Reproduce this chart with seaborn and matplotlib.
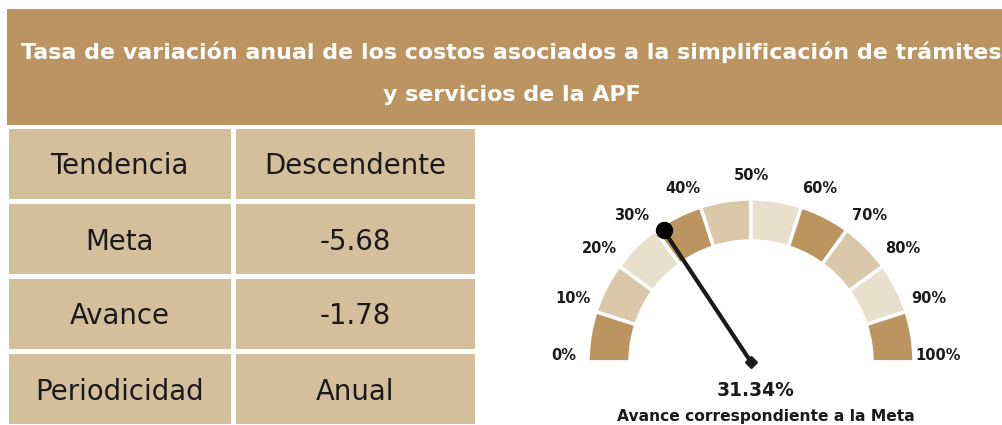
import numpy as np
import matplotlib
matplotlib.use("Agg")
import matplotlib.pyplot as plt
import seaborn as sns

# data
title_lines = ["Tasa de variación anual de los costos asociados a la simplificación de trámites",
               "y servicios de la APF"]
row_names = ["Tendencia", "Meta", "Avance", "Periodicidad"]
row_values = ["Descendente", "-5.68", "-1.78", "Anual"]
gauge_ticks = [0, 10, 20, 30, 40, 50, 60, 70, 80, 90, 100]
segment_size = [10] * 10
segment_colors = ["#BC945F", "#D9C8A9", "#E9DFCD", "#BC945F", "#D9C8A9",
                  "#E9DFCD", "#BC945F", "#D9C8A9", "#E9DFCD", "#BC945F"]
avance_pct = 31.34
gauge_caption = "Avance correspondiente a la Meta"

W, H = 1002, 425
sns.set_theme(style="white")
plt.rcParams['font.family'] = ['DejaVu Sans']

fig = plt.figure(figsize=(W / 100, H / 100), dpi=100)
fig.patch.set_facecolor("white")


def px_box(x0, y0, x1, y1):
    # pixel box (top-left origin) -> figure fraction rect
    return [x0 / W, 1 - y1 / H, (x1 - x0) / W, (y1 - y0) / H]


# title banner
ax_t = fig.add_axes(px_box(7, 9, 1002, 125))
ax_t.set_facecolor("#BB9461")
ax_t.set_xticks([])
ax_t.set_yticks([])
for s in ax_t.spines.values():
    s.set_visible(False)
ax_t.text(0.507, 0.625, title_lines[0], ha="center", va="center", color="white",
          fontsize=15.9, fontweight="bold", transform=ax_t.transAxes)
ax_t.text(0.507, 0.255, title_lines[1], ha="center", va="center", color="white",
          fontsize=15.9, fontweight="bold", transform=ax_t.transAxes)

# table as two single-column heatmaps (columns have different widths)
cell_cmap = matplotlib.colors.ListedColormap(["#D4BF9C"])
col_edges = [6, 233, 477]
for i, col in enumerate([row_names, row_values]):
    ax_c = fig.add_axes(px_box(col_edges[i], 126, col_edges[i + 1], 426))
    labels = np.array(col).reshape(-1, 1)
    sns.heatmap(np.zeros(labels.shape), ax=ax_c, cmap=cell_cmap,
                cbar=False, annot=labels, fmt="", linewidths=2.5, linecolor="white",
                xticklabels=False, yticklabels=False,
                annot_kws={"fontsize": 19.8, "color": "#1A1A1A"})
    for txt in ax_c.texts:
        x, y = txt.get_position()
        txt.set_position((x, y + 0.04))

# gauge, in pixel units centred on the hub
cx, cy = 751, 362
R, ring = 163, 42
gx0, gy0, gx1, gy1 = 480, 135, 1002, 425
ax_g = fig.add_axes(px_box(gx0, gy0, gx1, gy1))
ax_g.pie(segment_size + [sum(segment_size)], colors=segment_colors + ["none"],
         startangle=180, counterclock=False, radius=R,
         wedgeprops=dict(width=ring, edgecolor="white", linewidth=2.5))
ax_g.set_xlim(gx0 - cx, gx1 - cx)
ax_g.set_ylim(cy - gy1, cy - gy0)
ax_g.set_aspect("auto")
ax_g.axis("off")

for t in gauge_ticks:
    deg = 180 - 1.8 * t
    # labels near the top sit a little wider apart than the segment edges
    if 30 <= t <= 70 and t != 50:
        deg += 3.5 if t < 50 else -3.5
    a = np.deg2rad(deg)
    ax_g.text(187 * np.cos(a), 186 * np.sin(a) + 7 * np.cos(a) ** 2, f"{t}%",
              ha="center", va="center",
              fontsize=10.5, fontweight="bold", color="#1A1A1A")

a = np.deg2rad(180 - 1.8 * avance_pct)
ax_g.plot([0, 158 * np.cos(a)], [0, 158 * np.sin(a)], color="#1A1A1A", lw=3,
          solid_capstyle="butt", zorder=5)
ax_g.plot([158 * np.cos(a)], [158 * np.sin(a)], "o", color="black", ms=11.5, zorder=6)
ax_g.plot([0], [0], "D", color="#1A1A1A", ms=6, zorder=6)

ax_g.text(5, -28, f"{avance_pct:.2f}%", ha="center", va="center",
          fontsize=13.5, fontweight="bold", color="#1A1A1A")
ax_g.text(15, -55, gauge_caption, ha="center", va="center",
          fontsize=11.2, fontweight="bold", color="#1A1A1A")

fig.savefig("out.png", dpi=100, facecolor="white")
